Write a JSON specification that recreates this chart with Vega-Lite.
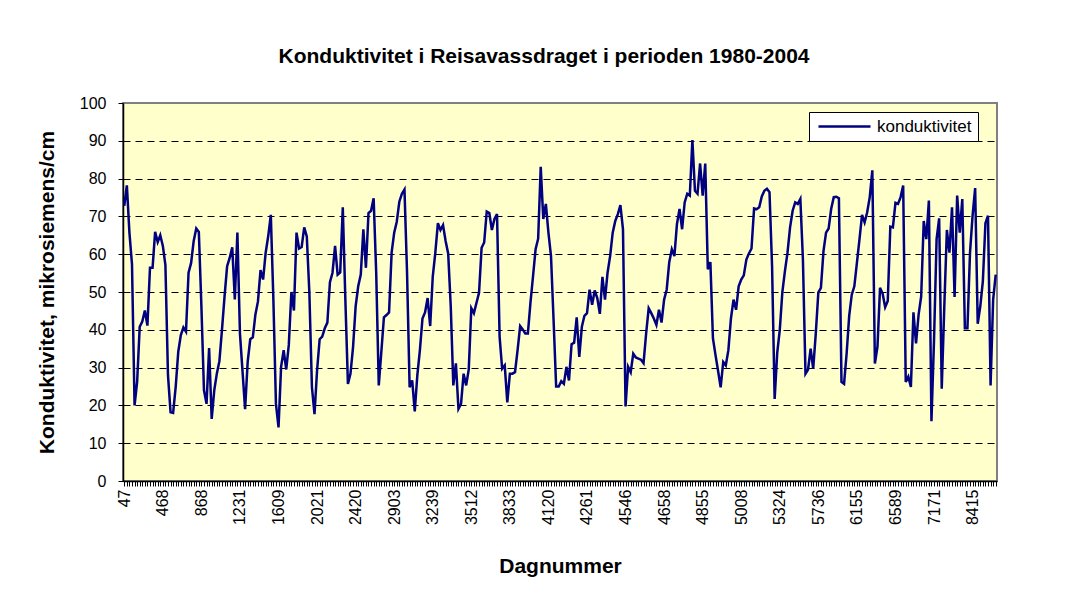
{
 "$schema": "https://vega.github.io/schema/vega-lite/v6.json",
 "width": 874,
 "height": 378,
 "autosize": {"type": "none"},
 "padding": {"left": 123, "top": 103, "right": 70, "bottom": 111},
 "background": "white",
 "config": {"font": "Liberation Sans", "view": {"fill": "#FFFFCC", "stroke": "#808080", "strokeWidth": 2}},
 "title": {"text": "Konduktivitet i Reisavassdraget i perioden 1980-2004", "fontSize": 21, "fontWeight": "bold", "color": "black", "anchor": "middle", "dx": -16, "offset": 28},
 "data": {"values": [
{"i":0,"v":72.8},{"i":1,"v":78.2},{"i":2,"v":65.7},{"i":3,"v":57.3},{"i":4,"v":20},{"i":5,"v":26.2},{"i":6,"v":40.8},{"i":7,"v":42.2},{"i":8,"v":45.1},{"i":9,"v":41.1},
{"i":10,"v":56.4},{"i":11,"v":56.4},{"i":12,"v":65.9},{"i":13,"v":63.2},{"i":14,"v":65},{"i":15,"v":62.2},{"i":16,"v":57.1},{"i":17,"v":28},{"i":18,"v":18.2},{"i":19,"v":18},
{"i":20,"v":24.9},{"i":21,"v":34.2},{"i":22,"v":38.6},{"i":23,"v":40.6},{"i":24,"v":39.5},{"i":25,"v":55.1},{"i":26,"v":57.7},{"i":27,"v":63.5},{"i":28,"v":66.8},{"i":29,"v":65.9},
{"i":30,"v":46.2},{"i":31,"v":24},{"i":32,"v":20.4},{"i":33,"v":35.2},{"i":34,"v":16.4},{"i":35,"v":24},{"i":36,"v":28.4},{"i":37,"v":31.7},{"i":38,"v":40},{"i":39,"v":48.8},
{"i":40,"v":56.8},{"i":41,"v":59},{"i":42,"v":61.8},{"i":43,"v":48},{"i":44,"v":65.7},{"i":45,"v":39},{"i":46,"v":29},{"i":47,"v":19},{"i":48,"v":31.5},{"i":49,"v":37.5},
{"i":50,"v":38},{"i":51,"v":44},{"i":52,"v":47.5},{"i":53,"v":55.8},{"i":54,"v":53.3},{"i":55,"v":60.4},{"i":56,"v":64.8},{"i":57,"v":70.4},{"i":58,"v":48},{"i":59,"v":20.4},
{"i":60,"v":14.2},{"i":61,"v":30.2},{"i":62,"v":34.6},{"i":63,"v":29.5},{"i":64,"v":36},{"i":65,"v":50},{"i":66,"v":45.1},{"i":67,"v":65.7},{"i":68,"v":61.5},{"i":69,"v":61.9},
{"i":70,"v":67.1},{"i":71,"v":64.7},{"i":72,"v":49.8},{"i":73,"v":24.8},{"i":74,"v":17.7},{"i":75,"v":29.3},{"i":76,"v":37.5},{"i":77,"v":38.2},{"i":78,"v":40.4},{"i":79,"v":41.9},
{"i":80,"v":52.6},{"i":81,"v":55.1},{"i":82,"v":62.2},{"i":83,"v":54.6},{"i":84,"v":55.2},{"i":85,"v":72.4},{"i":86,"v":48},{"i":87,"v":25.7},{"i":88,"v":28.4},{"i":89,"v":35.5},
{"i":90,"v":46.2},{"i":91,"v":51.5},{"i":92,"v":54.6},{"i":93,"v":66.6},{"i":94,"v":56.4},{"i":95,"v":70.9},{"i":96,"v":71.5},{"i":97,"v":74.8},{"i":98,"v":55.1},{"i":99,"v":25.3},
{"i":100,"v":34.2},{"i":101,"v":43.3},{"i":102,"v":43.9},{"i":103,"v":44.6},{"i":104,"v":60.4},{"i":105,"v":65.7},{"i":106,"v":68.6},{"i":107,"v":73.9},{"i":108,"v":76},{"i":109,"v":77.1},
{"i":110,"v":55.1},{"i":111,"v":24.8},{"i":112,"v":26.6},{"i":113,"v":18.4},{"i":114,"v":28},{"i":115,"v":34.6},{"i":116,"v":43},{"i":117,"v":44.6},{"i":118,"v":48.4},{"i":119,"v":41},
{"i":120,"v":54.1},{"i":121,"v":60.4},{"i":122,"v":68.2},{"i":123,"v":66.4},{"i":124,"v":67.7},{"i":125,"v":63.5},{"i":126,"v":60.2},{"i":127,"v":46.2},{"i":128,"v":25.3},{"i":129,"v":31.1},
{"i":130,"v":19.1},{"i":131,"v":20.4},{"i":132,"v":28.4},{"i":133,"v":25.3},{"i":134,"v":29.5},{"i":135,"v":45.7},{"i":136,"v":44.4},{"i":137,"v":47.1},{"i":138,"v":49.8},{"i":139,"v":61.7},
{"i":140,"v":63.1},{"i":141,"v":71.3},{"i":142,"v":70.9},{"i":143,"v":66.4},{"i":144,"v":69.3},{"i":145,"v":70.6},{"i":146,"v":38.2},{"i":147,"v":29.7},{"i":148,"v":30.6},{"i":149,"v":20.8},
{"i":150,"v":28.4},{"i":151,"v":28.4},{"i":152,"v":28.8},{"i":153,"v":34.6},{"i":154,"v":41},{"i":155,"v":40.1},{"i":156,"v":39},{"i":157,"v":39},{"i":158,"v":47.1},{"i":159,"v":54.1},
{"i":160,"v":61.3},{"i":161,"v":64.1},{"i":162,"v":83.1},{"i":163,"v":69.3},{"i":164,"v":73.3},{"i":165,"v":65.7},{"i":166,"v":59.5},{"i":167,"v":42.6},{"i":168,"v":25},{"i":169,"v":25},
{"i":170,"v":26.4},{"i":171,"v":25.7},{"i":172,"v":30.2},{"i":173,"v":26.6},{"i":174,"v":36.2},{"i":175,"v":36.6},{"i":176,"v":43.3},{"i":177,"v":32.8},{"i":178,"v":40.8},{"i":179,"v":43.7},
{"i":180,"v":44.4},{"i":181,"v":50.6},{"i":182,"v":46.6},{"i":183,"v":50.4},{"i":184,"v":48.4},{"i":185,"v":44.2},{"i":186,"v":54},{"i":187,"v":48},{"i":188,"v":55.1},{"i":189,"v":59.5},
{"i":190,"v":65.7},{"i":191,"v":68.8},{"i":192,"v":70.6},{"i":193,"v":73},{"i":194,"v":66.6},{"i":195,"v":19.7},{"i":196,"v":30.2},{"i":197,"v":28.8},{"i":198,"v":33.7},{"i":199,"v":32.7},
{"i":200,"v":32.4},{"i":201,"v":32.1},{"i":202,"v":31.2},{"i":203,"v":39},{"i":204,"v":45.7},{"i":205,"v":44.4},{"i":206,"v":43},{"i":207,"v":41.3},{"i":208,"v":45.3},{"i":209,"v":41.9},
{"i":210,"v":48},{"i":211,"v":50.6},{"i":212,"v":57.9},{"i":213,"v":61.3},{"i":214,"v":59.5},{"i":215,"v":68},{"i":216,"v":72},{"i":217,"v":66.6},{"i":218,"v":73.7},{"i":219,"v":76},
{"i":220,"v":75.5},{"i":221,"v":90.2},{"i":222,"v":76.8},{"i":223,"v":76},{"i":224,"v":84},{"i":225,"v":75.5},{"i":226,"v":84},{"i":227,"v":56},{"i":228,"v":57.9},{"i":229,"v":37.7},
{"i":230,"v":33.3},{"i":231,"v":29.1},{"i":232,"v":24.8},{"i":233,"v":31.5},{"i":234,"v":30.6},{"i":235,"v":34.6},{"i":236,"v":43},{"i":237,"v":48},{"i":238,"v":45.3},{"i":239,"v":51.5},
{"i":240,"v":53.3},{"i":241,"v":54.4},{"i":242,"v":58.6},{"i":243,"v":60.2},{"i":244,"v":61.5},{"i":245,"v":72.1},{"i":246,"v":71.9},{"i":247,"v":72.4},{"i":248,"v":75.3},{"i":249,"v":76.8},
{"i":250,"v":77.3},{"i":251,"v":76.4},{"i":252,"v":56.8},{"i":253,"v":21.7},{"i":254,"v":33.9},{"i":255,"v":40},{"i":256,"v":50},{"i":257,"v":55.5},{"i":258,"v":60.4},{"i":259,"v":67.1},
{"i":260,"v":71.5},{"i":261,"v":73.7},{"i":262,"v":73.3},{"i":263,"v":74.6},{"i":264,"v":58.6},{"i":265,"v":28.4},{"i":266,"v":29.5},{"i":267,"v":35},{"i":268,"v":29.7},{"i":269,"v":39},
{"i":270,"v":49.9},{"i":271,"v":51.1},{"i":272,"v":60.8},{"i":273,"v":65.7},{"i":274,"v":66.8},{"i":275,"v":72},{"i":276,"v":75.1},{"i":277,"v":75.2},{"i":278,"v":74.8},{"i":279,"v":26.2},
{"i":280,"v":25.7},{"i":281,"v":33.7},{"i":282,"v":43.7},{"i":283,"v":49.3},{"i":284,"v":51.5},{"i":285,"v":57.7},{"i":286,"v":63.9},{"i":287,"v":70.4},{"i":288,"v":68.4},{"i":289,"v":71.1},
{"i":290,"v":75.1},{"i":291,"v":82.2},{"i":292,"v":31.1},{"i":293,"v":35.5},{"i":294,"v":51.1},{"i":295,"v":49.6},{"i":296,"v":46},{"i":297,"v":47.6},{"i":298,"v":67.3},{"i":299,"v":67.1},
{"i":300,"v":73.6},{"i":301,"v":73.3},{"i":302,"v":75.1},{"i":303,"v":78.2},{"i":304,"v":26.2},{"i":305,"v":27.6},{"i":306,"v":24.9},{"i":307,"v":44.6},{"i":308,"v":36.4},{"i":309,"v":44},
{"i":310,"v":48.8},{"i":311,"v":68.8},{"i":312,"v":64},{"i":313,"v":74.2},{"i":314,"v":15.8},{"i":315,"v":37.3},{"i":316,"v":64},{"i":317,"v":69.5},{"i":318,"v":24.4},{"i":319,"v":46.2},
{"i":320,"v":66.4},{"i":321,"v":60.4},{"i":322,"v":72.4},{"i":323,"v":48.7},{"i":324,"v":75.5},{"i":325,"v":65.7},{"i":326,"v":74.6},{"i":327,"v":40.4},{"i":328,"v":40.4},{"i":329,"v":60.4},
{"i":330,"v":70.2},{"i":331,"v":77.5},{"i":332,"v":41.6},{"i":333,"v":46.2},{"i":334,"v":52.9},{"i":335,"v":68.2},{"i":336,"v":70.2},{"i":337,"v":25.3},{"i":338,"v":48},{"i":339,"v":54.6}
 ]},
 "mark": {"type": "line", "strokeWidth": 2.5},
 "encoding": {
  "x": {"field": "i", "type": "ordinal", "scale": {"type": "point", "padding": 0.5},
   "axis": {"title": "Dagnummer", "titleFontSize": 21, "titleFontWeight": "bold", "titleColor": "black", "titleY": 85, "titleBaseline": "middle",
    "labelAngle": -90, "labelFontSize": 16, "labelColor": "black", "labelPadding": 3, "labelOverlap": false, "labelBound": false,
    "labelExpr": "datum.value % 15 === 0 ? ['47','468','868','1231','1609','2021','2420','2903','3239','3512','3833','4120','4261','4546','4658','4855','5008','5324','5736','6155','6589','7171','8415'][datum.value / 15] : ''",
    "tickSize": 5, "tickColor": "black", "domainColor": "black", "domainWidth": 1.5, "grid": false}},
  "y": {"field": "v", "type": "quantitative", "scale": {"domain": [0, 100], "nice": false},
   "axis": {"values": [0,10,20,30,40,50,60,70,80,90,100], "title": "Konduktivitet, mikrosiemens/cm", "titleFontSize": 21, "titleFontWeight": "bold", "titleColor": "black",
    "titleX": -76, "titleY": 189, "titleAngle": -90, "titleAlign": "center", "titleBaseline": "middle",
    "labelFontSize": 16, "labelColor": "black", "labelPadding": 12, "tickSize": 5, "tickColor": "black", "domainColor": "black", "domainWidth": 1.5,
    "grid": true, "gridColor": "black", "gridDash": [7, 5], "gridWidth": 1,
    "gridOpacity": {"condition": {"test": "datum.value === 0 || datum.value === 100", "value": 0}, "value": 1}}},
  "color": {"datum": "konduktivitet", "scale": {"range": ["#000080"]},
   "legend": {"orient": "none", "legendX": 686, "legendY": 9, "title": null, "symbolType": "M-1,0H9.4", "symbolSize": 100, "symbolStrokeWidth": 2.5, "symbolStrokeColor": "#000080",
    "labelFontSize": 17, "labelColor": "black", "fillColor": "white", "strokeColor": "black", "padding": 6, "labelOffset": 45}}
 }
}
